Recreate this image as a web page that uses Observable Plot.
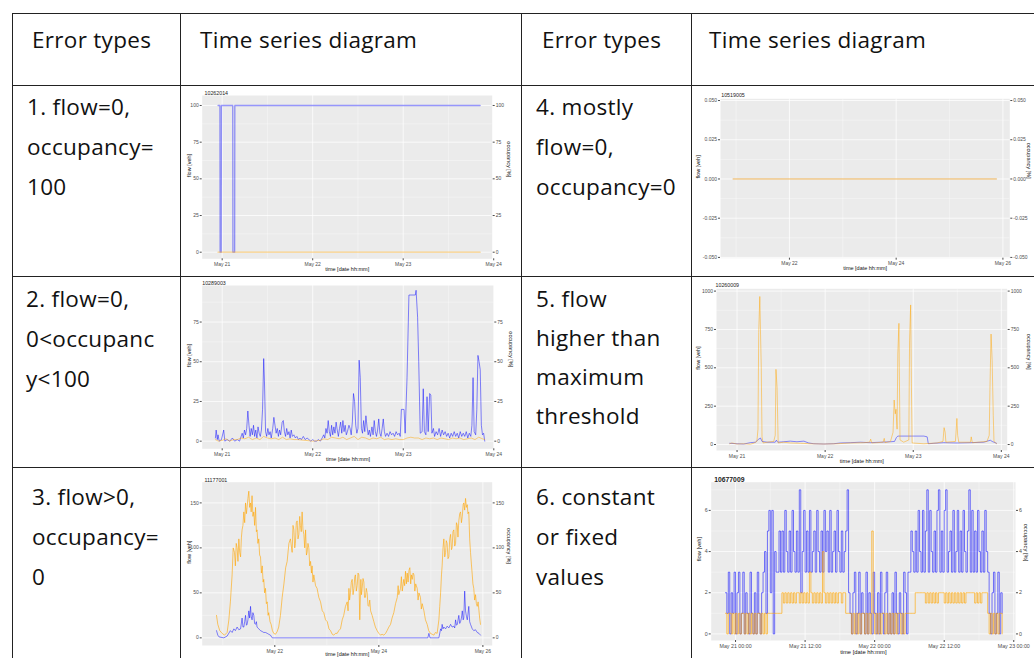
<!DOCTYPE html>
<html><head><meta charset="utf-8">
<script src="https://cdn.jsdelivr.net/npm/d3@7"></script>
<script src="https://cdn.jsdelivr.net/npm/@observablehq/plot@0.6"></script>
<style>
html,body{margin:0;padding:0;background:#fff;}
body{width:1034px;height:658px;overflow:hidden;position:relative;font-family:"Open Sans",Lato,sans-serif;}
.hl{position:absolute;background:#222;height:1px}
.vl{position:absolute;background:#222;width:1px}
.cell{position:absolute;font-size:22.5px;letter-spacing:0.3px;line-height:40px;color:#111;white-space:nowrap}
.chart{position:absolute}
.chart svg{display:block}
</style></head><body>
<div id="root"></div>
<script>
// ---------- table text ----------
const headerLabels = ["Error types", "Time series diagram", "Error types", "Time series diagram"];
const errorTypes = [
  ["1. flow=0,", "occupancy=", "100"],
  ["2. flow=0,", "0<occupanc", "y<100"],
  ["3. flow>0,", "occupancy=", "0"],
  ["4. mostly", "flow=0,", "occupancy=0"],
  ["5. flow", "higher than", "maximum", "threshold"],
  ["6. constant", "or fixed", "values"]
];
const detectorIds = ["10262014", "10289003", "11177001", "10519005", "10260009", "10677009"];

// ---------- series: [hours from May 21 00:00, value] ----------
const c1Occ = [[-1.1,100],[-0.6,100],[-0.55,0],[-0.25,0],[-0.2,100],[2.8,100],[2.85,0],[3.3,0],[3.35,100],[68.4,100]];
const c1Flow = [[-1.1,0],[68.4,0]];

const c2Occ = [[-1.8,2],[-1.6,7],[-1.3,1],[-1.1,4],[-0.8,0],[-0.2,1],[0.4,7],[0.7,0],[1.3,1],[2.0,0],[2.7,2],[3.3,0],[4.0,1],[4.6,0],[5.3,5],[5.6,2],[5.9,7],[6.2,4],[6.5,8],[6.8,19],[7.1,10],[7.4,3],[7.7,8],[8.0,4],[8.3,10],[8.6,3],[8.9,7],[9.2,2],[9.5,9],[9.8,5],[10.1,3],[10.4,7],[10.7,20],[11.0,52],[11.2,38],[11.5,6],[11.8,3],[12.1,8],[12.4,4],[12.7,6],[13.0,2],[13.4,8],[13.7,15],[14.0,10],[14.3,5],[14.6,8],[14.9,3],[15.2,7],[15.5,4],[15.9,12],[16.2,13],[16.5,6],[16.8,3],[17.1,8],[17.4,4],[17.7,6],[18.0,2],[18.3,7],[18.6,3],[19.0,4],[19.4,2],[19.8,3],[20.2,1],[20.6,2],[21.0,1],[21.5,3],[22.0,1],[22.5,2],[23.0,1],[23.5,0],[24.0,1],[24.5,0],[25.0,0],[25.5,1],[26.0,0],[26.5,2],[26.9,4],[27.2,2],[27.5,8],[27.8,5],[28.1,13],[28.4,6],[28.7,3],[29.0,10],[29.3,4],[29.6,9],[29.9,5],[30.2,12],[30.5,7],[30.8,3],[31.1,8],[31.4,12],[31.7,5],[32.0,13],[32.3,6],[32.6,10],[32.9,4],[33.2,6],[33.6,10],[33.9,8],[34.2,4],[34.5,12],[34.8,30],[35.1,25],[35.4,10],[35.7,5],[36.0,8],[36.3,51],[36.6,40],[36.9,8],[37.2,5],[37.5,13],[37.8,6],[38.1,16],[38.4,9],[38.7,4],[39.0,7],[39.3,3],[39.7,9],[40.0,4],[40.3,13],[40.6,6],[40.9,3],[41.2,7],[41.5,14],[41.8,5],[42.1,3],[42.4,8],[42.7,14],[43.0,6],[43.3,3],[43.7,5],[44.1,3],[44.5,6],[44.9,4],[45.3,5],[45.7,3],[46.1,6],[46.5,4],[46.9,5],[47.2,3],[47.5,20],[48.2,20],[48.5,5],[49.0,40],[49.5,92],[51.2,92],[51.4,95],[51.8,78],[52.1,50],[52.5,5],[53.0,6],[53.3,33],[53.6,6],[54.0,4],[54.3,28],[54.6,6],[55.0,30],[55.3,29],[55.6,5],[56.0,8],[56.3,3],[56.7,6],[57.1,4],[57.5,8],[57.9,3],[58.3,7],[58.7,4],[59.1,6],[59.5,3],[59.9,5],[60.3,2],[60.7,5],[61.1,3],[61.5,6],[61.9,3],[62.3,5],[62.7,2],[63.1,6],[63.5,3],[63.9,5],[64.3,3],[64.7,6],[65.1,2],[65.5,5],[65.9,3],[66.2,10],[66.5,40],[66.8,6],[67.2,4],[67.5,20],[67.8,54],[68.1,50],[68.4,45],[68.7,10],[69.0,4],[69.3,5],[69.6,0]];
const c2Flow = [[-1.8,1],[-1,0],[0,0.5],[1,1.5],[2,0],[3,1],[4,1],[5,2],[6,1.5],[7,2.5],[8,1],[9,2],[10,1],[11,3],[12,2],[13,1.5],[14,2],[15,1],[16,2.5],[17,1],[18,1.5],[19,1],[20,1],[22,0.5],[24,0],[26,0.5],[27,1.5],[28,1],[29,2.5],[30,2],[31,1.5],[32,2.5],[33,1],[34,2],[35,3],[36,1],[37,2.5],[38,2],[39,1],[40,2],[41,1.5],[42,2.5],[43,1],[44,1.5],[45,1],[46,1.5],[47,1],[48,1],[49,2],[50,2.5],[51,2],[52,2],[53,1],[54,2],[55,1.5],[56,2],[57,1],[58,2],[59,1.5],[60,1],[61,2],[62,1.5],[63,2],[64,1],[65,1.5],[66,2],[67,1],[68,2.5],[69,1.5],[69.6,1]];

const c3Flow = [[-2.9,25],[-2.3,15],[-1.4,8],[-0.3,5],[0.8,3],[2.0,6],[2.8,20],[3.5,40],[4.3,70],[4.8,100],[5.4,95],[5.8,80],[6.2,105],[6.6,100],[7.0,85],[7.4,110],[7.8,95],[8.2,90],[8.6,112],[8.9,120],[9.3,125],[9.7,140],[10.1,128],[10.5,150],[10.9,138],[11.2,145],[11.6,155],[12.0,163],[12.4,145],[12.8,150],[13.1,140],[13.5,158],[13.9,135],[14.3,140],[14.7,125],[15.1,145],[15.5,118],[15.8,120],[16.2,105],[16.6,110],[17.0,92],[17.4,90],[17.8,72],[18.2,80],[18.6,62],[18.9,65],[19.3,50],[19.7,55],[20.1,38],[20.5,40],[20.9,25],[21.2,28],[21.8,18],[22.3,15],[22.9,8],[23.5,5],[24.3,4],[25.1,7],[25.8,12],[26.6,25],[27.4,45],[28.2,60],[29.0,78],[29.7,85],[30.5,105],[31.2,110],[32.0,95],[32.4,125],[32.8,120],[33.2,100],[33.5,105],[33.9,128],[34.3,130],[34.7,110],[35.1,115],[35.5,135],[35.8,125],[36.2,118],[36.6,140],[37.0,120],[37.4,115],[37.8,100],[38.2,120],[38.6,92],[38.9,95],[39.3,105],[39.7,100],[40.1,80],[40.5,85],[40.9,72],[41.2,80],[41.6,62],[42.0,70],[42.8,58],[43.5,55],[44.3,45],[45.1,40],[45.9,30],[46.6,28],[47.4,20],[48.2,18],[49.0,10],[49.7,8],[50.5,4],[51.2,3],[52.0,5],[52.8,5],[53.5,8],[54.3,10],[55.1,20],[55.8,25],[56.6,35],[57.4,40],[57.8,30],[58.2,55],[58.5,42],[58.9,50],[59.3,62],[59.7,65],[60.1,48],[60.5,55],[60.9,68],[61.2,70],[61.6,52],[62.0,58],[62.4,72],[62.8,70],[63.2,20],[63.7,65],[64.0,48],[64.3,55],[64.7,66],[65.1,62],[65.4,45],[65.8,45],[66.2,55],[66.6,50],[67.0,36],[67.4,35],[67.8,42],[68.2,30],[68.9,25],[69.7,18],[70.4,12],[71.2,8],[72.0,5],[72.8,3],[73.5,4],[74.3,3],[75.1,5],[75.8,8],[76.6,12],[77.4,15],[78.1,22],[78.9,28],[79.7,38],[80.5,45],[80.9,58],[81.2,48],[82.0,55],[82.4,68],[82.8,52],[83.5,65],[83.9,58],[84.3,74],[84.7,60],[85.1,72],[85.5,62],[85.9,75],[86.3,78],[86.7,60],[87.0,70],[87.4,65],[87.8,72],[88.2,70],[88.6,52],[89.0,60],[89.7,55],[90.1,42],[90.5,50],[91.2,45],[91.6,32],[92.0,38],[92.8,30],[93.5,20],[94.3,15],[95.0,8],[95.8,5],[96.6,4],[97.4,3],[98.1,6],[98.9,5],[99.7,20],[100.1,35],[100.5,50],[100.9,70],[101.2,80],[101.6,100],[102.0,110],[102.4,90],[102.8,95],[103.1,108],[103.5,105],[103.9,88],[104.3,90],[104.7,110],[105.1,115],[105.5,98],[105.8,100],[106.2,118],[106.6,120],[107.0,102],[107.4,105],[107.8,128],[108.2,125],[108.5,112],[108.9,130],[109.3,138],[109.7,140],[110.1,128],[110.5,135],[110.9,148],[111.2,150],[111.6,142],[112.0,155],[112.4,145],[112.8,148],[113.1,138],[113.5,140],[113.9,110],[114.3,95],[114.7,82],[115.1,70],[115.4,60],[115.8,55],[116.2,42],[116.6,48],[117.0,38],[117.4,35],[117.8,40],[118.2,30],[118.5,22],[118.9,15]];
const c3Occ = [[-2.9,8],[-2.3,3],[-1.7,1],[0.5,0],[2.0,2],[3.5,8],[4.3,6],[5.1,10],[5.8,8],[6.6,12],[7.4,9],[8.2,10],[8.9,22],[9.3,12],[9.7,12],[10.1,18],[10.5,25],[10.9,14],[11.2,15],[11.6,20],[12.0,30],[12.4,22],[12.8,35],[13.1,24],[13.5,20],[13.9,28],[14.3,25],[14.7,16],[15.1,15],[15.5,18],[15.8,12],[16.6,10],[17.4,8],[18.2,7],[18.9,6],[19.7,6],[20.5,5],[21.2,4],[22.0,3],[22.8,0],[94.6,0],[95.1,5],[95.6,0],[99.7,0],[100.5,10],[100.9,8],[101.2,15],[101.6,10],[102.0,12],[102.8,10],[103.5,13],[104.3,11],[105.1,15],[105.8,12],[106.6,13],[107.0,11],[107.4,20],[107.8,14],[108.2,15],[108.9,25],[109.3,16],[109.7,18],[110.1,22],[110.5,30],[110.9,20],[111.2,22],[111.6,52],[112.0,30],[112.4,24],[112.8,20],[113.1,26],[113.5,35],[113.9,18],[114.3,15],[115.1,10],[115.8,8],[116.6,9],[117.4,6],[118.2,5],[118.9,3]];

const c4Flow = [[-1.35,0],[117.1,0]];
const c4Occ = [[-1.35,0],[117.1,0]];

const c5Flow = [[-2.0,5],[-1.4,10],[0,3],[1.8,5],[3.6,2],[4.5,8],[5.4,20],[5.7,100],[5.9,730],[6.2,965],[6.4,720],[6.6,500],[6.8,50],[7.1,10],[8.2,15],[10.0,20],[10.4,60],[10.6,490],[10.9,370],[11.2,10],[12.7,15],[14.5,10],[17.3,8],[20.0,5],[23.6,3],[27.2,5],[30.9,10],[34.5,12],[36.1,15],[36.4,35],[36.7,10],[38.1,12],[39.8,15],[40.1,40],[40.3,12],[41.8,20],[42.5,80],[42.8,290],[43.1,200],[43.3,230],[43.6,100],[43.8,590],[44.1,790],[44.2,500],[44.4,30],[45.4,15],[46.8,30],[47.0,680],[47.3,910],[47.5,400],[47.7,10],[50.9,5],[54.5,10],[56.1,20],[56.4,110],[56.7,80],[56.9,15],[59.5,20],[59.9,170],[60.1,60],[60.4,15],[63.6,15],[63.8,50],[64.1,12],[68.1,20],[68.7,60],[68.9,360],[69.2,720],[69.5,550],[69.8,190],[70.0,20],[70.7,5]];
const c5Occ = [[-2.0,8],[0,5],[1.8,3],[3.6,12],[5.0,15],[5.9,35],[6.4,42],[6.8,20],[8.2,15],[10.4,15],[10.7,28],[11.1,15],[12.7,18],[14.5,22],[16.3,18],[18.2,22],[19.5,10],[20.9,5],[23.6,3],[26.3,5],[28.2,10],[30.9,12],[33.6,15],[36.3,12],[39.1,15],[41.8,18],[42.9,20],[43.4,45],[43.8,55],[50.9,55],[51.8,50],[52.1,5],[53.6,8],[56.3,12],[59.9,10],[63.6,12],[67.2,15],[69.0,28],[69.5,20],[70.7,8]];

// chart 6: values every 15 minutes starting May 20 22:15
const c6Start = -1.75, c6Step = 0.25;
const c6Occ = [2,1,3,0,2,1,3,
  0,2,3,0,1,3,0,2,1,0,3,1,
  0,2,0,3,1,0,2,3,
  4,1,5,6, 2,6,0,4, 3,3,5,3,
  5,3,6,4, 3,5,3,6, 4,3,5,3, 7,2,4,6, 3,5,3,6, 3,4,5,3, 6,4,3,5, 3,6,4,5, 3,6,3,4, 5,3,6,4, 3,5,3,4,
  5,7,2,1,
  0,2,3,0, 1,3,0,2, 1,0,3,0, 2,1,0,3, 1,0,2,0, 3,1,0,2, 3,0,1,0, 2,0,3,1, 0,2,1,0, 3,2,0,3,
  3,5,4,3,
  5,3,6,4, 3,6,3,5, 7,3,6,4, 3,5,3,6, 7,3,5,3, 6,7,3,4, 5,3,6,3, 4,6,3,5, 3,6,4,3, 5,7,3,6, 3,5,3,6, 4,3,5,3,
  6,4,3,1,
  0,2,3,0,1,3,0,2,1];
const c6Flow = [1,0,1,1,0,1,0,
  1,0,1,0,1,1,0,1,0,1,0,1,
  0,1,0,1,1,0,1,0,
  1,0,1,1, 1,1,1,1, 1,1,1,1,
  2,1.5,2,1.5, 2,1.5,2,1.5, 2,1.5,2,2, 1.5,2,1.5,2, 1.5,2,1.5,3, 2,1.5,2,1.5, 2,1.5,2,1.5, 4,2,1.5,2, 1.5,2,1.5,2, 1.5,2,1.5,2, 2,1.5,2,2,
  1,1,1,1,
  0,1,0,1, 0,1,0,1, 1,0,1,0, 1,0,5,1, 0,1,0,1, 0,1,1,0, 1,0,1,0, 1,0,1,0, 1,1,0,1, 0,1,1,1,
  1,1,1,1,
  2,2,2,2, 2,2,2,1.5, 2,1.5,2,1.5, 2,1.5,2,1.5, 2,2,2,2, 1.5,2,1.5,2, 1.5,2,1.5,2, 1.5,2,1.5,2, 1.5,2,1.5,2, 2,2,2,2, 2,1.5,2,1.5, 2,1.5,2,2,
  2,2,1,0,
  1,0,1,0,1,0,1,1,0];

// ---------- axis ticks (hours from May 21 00:00 / values) ----------
const xTicksDay3 = [0, 24, 48, 72], xMinorDay3 = [12, 36, 60];
const xTicks2Day = [24, 72, 120], xMinor2Day = [0, 48, 96];
const xTicks12h = [0, 12, 24, 36, 48], xMinor12h = [-6, 6, 18, 30, 42];
const yTicks1 = [0, 25, 50, 75, 100], yMinor1 = [12.5, 37.5, 62.5, 87.5];
const yTicks2 = [0, 25, 50, 75], yMinor2 = [12.5, 37.5, 62.5, 87.5];
const yTicks3 = [0, 50, 100, 150], yMinor3 = [25, 75, 125];
const yTicks4 = [-0.05, -0.025, 0, 0.025, 0.05], yMinor4 = [-0.0375, -0.0125, 0.0125, 0.0375];
const yTicks5 = [0, 250, 500, 750, 1000], yMinor5 = [125, 375, 625, 875];
const yTicks6 = [0, 2, 4, 6], yMinor6 = [1, 3, 5, 7];

const base = Date.UTC(2018, 4, 21);
const toDate = h => new Date(base + h * 3600e3);
const pairs = arr => arr.map(d => ({t: toDate(d[0]), v: d[1]}));
const regular = arr => arr.map((v, i) => ({t: toDate(c6Start + i * c6Step), v}));

const root = document.getElementById("root");
function el(cls, styles, text) {
  const d = document.createElement("div");
  d.className = cls;
  Object.assign(d.style, styles);
  if (text != null) d.innerHTML = text;
  root.appendChild(d);
  return d;
}

// ---------- table grid ----------
[13, 85, 276, 467].forEach(y => el("hl", {left: "12px", top: y + "px", width: "1022px"}));
[12, 180, 521, 691].forEach(x => el("vl", {left: x + "px", top: "13px", height: "645px"}));

// ---------- header & cells ----------
const esc = s => s.replace(/&/g, "&amp;").replace(/</g, "&lt;").replace(/>/g, "&gt;");
[[32, headerLabels[0]], [200, headerLabels[1]], [542, headerLabels[2]], [709, headerLabels[3]]]
  .forEach(([x, t]) => el("cell", {left: x + "px", top: "19.5px"}, esc(t)));
const cellPos = [[27, 87], [26, 278.5], [32, 476.5], [536, 87], [536, 278.5], [536, 476.5]];
errorTypes.forEach((lines, i) => {
  el("cell", {left: cellPos[i][0] + "px", top: cellPos[i][1] + "px", lineHeight: i === 4 ? "39.3px" : "40px"},
     lines.map(esc).join("<br>"));
});

// ---------- mini charts ----------
function chart(o) {
  const fs = o.fs || 5;
  const grid = {stroke: "#fff", strokeOpacity: 1};
  const axisStyle = {tickSize: 2, tickPadding: 1.5, fontSize: fs, color: "#4d4d4d", label: null};
  const marks = [
    Plot.frame({fill: "#ebebeb", stroke: null}),
    Plot.gridX(o.xMinor.map(toDate), {...grid, strokeWidth: 0.35}),
    Plot.gridY(o.yMinor, {...grid, strokeWidth: 0.35}),
    Plot.gridX(o.xTicks.map(toDate), {...grid, strokeWidth: 0.75}),
    Plot.gridY(o.yTicks, {...grid, strokeWidth: 0.75}),
    Plot.axisX(o.xTicks.map(toDate), {...axisStyle, tickFormat: o.xFmt}),
    Plot.axisY(o.yTicks, {...axisStyle, anchor: "left", tickFormat: o.yFmt}),
    Plot.axisY(o.yTicks, {...axisStyle, anchor: "right", tickFormat: o.yFmt}),
    Plot.line(o.occ, {x: "t", y: "v", stroke: "#0000ff", strokeOpacity: o.bo ?? 0.5, strokeWidth: o.sw || 0.8, curve: o.curve || "linear"}),
    Plot.line(o.flow, {x: "t", y: "v", stroke: "#ffa500", strokeOpacity: o.oo ?? 0.6, strokeWidth: o.sw || 0.8, curve: o.curve || "linear"}),
    Plot.text([o.title], {frameAnchor: "top-left", textAnchor: "start", dx: o.tdx || 0, dy: o.tdy, fontSize: o.tfs || fs + 0.3, fill: "#222", fontWeight: o.tfw || "normal"}),
    Plot.text(["flow [veh]"], {frameAnchor: "left", rotate: -90, dx: o.ldx, fontSize: fs + 0.5, fill: "#111"}),
    Plot.text(["occupancy [%]"], {frameAnchor: "right", rotate: 90, dx: o.rdx, fontSize: fs + 0.5, fill: "#111"}),
    Plot.text(["time [date hh:mm]"], {frameAnchor: "bottom", dy: o.bdy, fontSize: fs + 0.5, fill: "#111"})
  ];
  const svg = Plot.plot({
    width: o.w, height: o.h,
    marginLeft: o.m[0], marginRight: o.m[1], marginTop: o.m[2], marginBottom: o.m[3],
    x: {type: "utc", domain: o.xd.map(toDate)},
    y: {domain: o.yd},
    style: {background: "#fff", fontFamily: "'Liberation Sans', Arial, sans-serif", overflow: "visible"},
    marks
  });
  const wrap = el("chart", {left: o.left + "px", top: o.top + "px"});
  wrap.appendChild(svg);
}

const fmtDay = d3.utcFormat("%b %d");
const fmtDayTime = d3.utcFormat("%b %d %H:%M");
const fmtInt = d => String(d);

chart({left: 181, top: 86, w: 339, h: 189, m: [20.7, 28.3, 9, 16.7],
  xd: [-5.3, 71.6], yd: [-4.5, 106.8], xTicks: xTicksDay3, xMinor: xMinorDay3, yTicks: yTicks1, yMinor: yMinor1,
  xFmt: fmtDay, yFmt: fmtInt, occ: pairs(c1Occ), flow: pairs(c1Flow), title: detectorIds[0],
  tdx: 2.3, tdy: -4.3, ldx: -12.5, rdx: 16.5, bdy: 11.7, sw: 1.3, bo: 0.4, oo: 0.45});
chart({left: 181, top: 277, w: 339, h: 189, m: [20.7, 26.7, 8, 17.7],
  xd: [-5.3, 72.0], yd: [-4.8, 98], xTicks: xTicksDay3, xMinor: xMinorDay3, yTicks: yTicks2, yMinor: yMinor2,
  xFmt: fmtDay, yFmt: fmtInt, occ: pairs(c2Occ), flow: pairs(c2Flow), title: detectorIds[1],
  tdx: 0, tdy: -4.3, ldx: -12.5, rdx: 16.5, bdy: 11.7, bo: 0.6});
chart({left: 181, top: 468, w: 339, h: 190, m: [20.7, 28.3, 13.7, 13],
  xd: [-9.5, 124.3], yd: [-8.5, 173], xTicks: xTicks2Day, xMinor: xMinor2Day, yTicks: yTicks3, yMinor: yMinor3,
  xFmt: fmtDay, yFmt: fmtInt, occ: pairs(c3Occ), flow: pairs(c3Flow), title: detectorIds[2],
  tdx: 2.3, tdy: -4, ldx: -12.5, rdx: 16.5, bdy: 10.7, bo: 0.6, oo: 0.75});
chart({left: 692, top: 86, w: 342, h: 189, m: [28, 24.7, 12.3, 17.3],
  xd: [-7, 123.1], yd: [-0.0505, 0.0511], xTicks: xTicks2Day, xMinor: xMinor2Day, yTicks: yTicks4, yMinor: yMinor4,
  xFmt: fmtDay, yFmt: d => d.toFixed(3), occ: pairs(c4Occ), flow: pairs(c4Flow), title: detectorIds[3],
  tdx: 0.7, tdy: -6, ldx: -22, rdx: 18.5, bdy: 11.5, bo: 0.08, oo: 0.65, sw: 1});
chart({left: 692, top: 277, w: 342, h: 189, m: [24, 27.3, 11.3, 16],
  xd: [-5.6, 73.6], yd: [-39, 1015], xTicks: xTicksDay3, xMinor: xMinorDay3, yTicks: yTicks5, yMinor: yMinor5,
  xFmt: fmtDay, yFmt: fmtInt, occ: pairs(c5Occ), flow: pairs(c5Flow), title: detectorIds[4],
  tdx: -1, tdy: -6, ldx: -18, rdx: 22, bdy: 12.7, bo: 0.55, oo: 0.6});
chart({left: 692, top: 468, w: 342, h: 190, m: [18.7, 19, 13.7, 18],
  xd: [-4.2, 48.3], yd: [-0.32, 7.37], xTicks: xTicks12h, xMinor: xMinor12h, yTicks: yTicks6, yMinor: yMinor6,
  xFmt: fmtDayTime, yFmt: fmtInt, occ: regular(c6Occ), flow: regular(c6Flow), title: detectorIds[5],
  tdx: 3, tdy: -5, ldx: -12.5, rdx: 10, bdy: 13.5, fs: 5.3, tfs: 6.8, tfw: "bold", curve: "step-after", bo: 0.6, oo: 0.7, sw: 0.9});
</script>
</body></html>
